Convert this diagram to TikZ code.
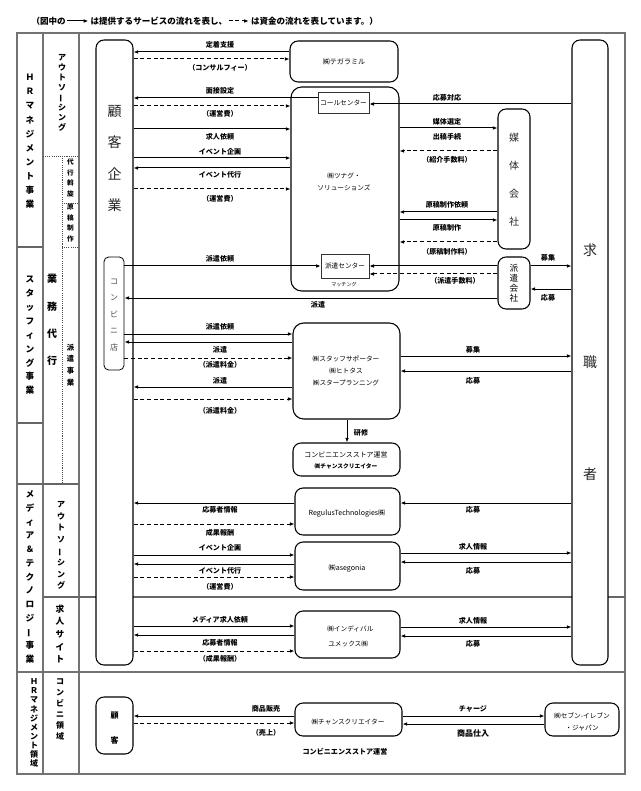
\documentclass[tikz,border=0pt]{standalone}
\usepackage{fontspec}
\setmainfont{Noto Sans CJK JP}
\usetikzlibrary{arrows.meta,fit}
\newcommand{\vbar}{\rotatebox[origin=c]{90}{ー}}
\begin{document}
\begin{tikzpicture}[x=0.75pt,y=-0.75pt,
  frame/.style={draw=black!55,line width=1.4pt},
  colline/.style={draw=black!55,line width=1.1pt},
  secline/.style={draw=black!60,line width=0.9pt},
  dotline/.style={draw=black!70,line width=0.5pt,dash pattern=on 0.8pt off 0.8pt},
  rbox/.style={draw,fill=white,rounded corners=6pt,line width=0.8pt,inner sep=0pt},
  cbox/.style={draw,fill=white,rounded corners=3.5pt,line width=0.6pt,inner sep=0pt},
  sbox/.style={draw=black!80,fill=white,line width=0.5pt,inner sep=0pt},
  sv/.style={-{Latex[length=3.5pt,width=2.8pt]},line width=0.75pt},
  fund/.style={sv,dash pattern=on 3pt off 2pt},
  hdr/.style={font=\bfseries\fontsize{6.4}{7}\selectfont,inner sep=0pt},
  lbl/.style={font=\bfseries\fontsize{5.3}{6}\selectfont,inner sep=0pt},
  btx/.style={font=\fontsize{5}{6}\selectfont,inner sep=0pt},
  vt/.style={align=center,inner sep=0pt},
]
\useasboundingbox (0,0) rectangle (640,791);

% ---------- header ----------
\node[hdr,anchor=east] (h1) at (66,21) {（図中の};
\draw[sv] ([xshift=1pt]h1.east) -- ++(21,0) coordinate (ha1);
\node[hdr,anchor=west] (h2) at ([xshift=1.5pt]ha1) {は提供するサービスの流れを表し、};
\draw[fund] ([xshift=1pt]h2.east) -- ++(20,0) coordinate (ha2);
\node[hdr,anchor=west] (h3) at ([xshift=1.5pt]ha2) {は資金の流れを表しています。）};

% ---------- frame and columns ----------
\draw[frame] (17,33) rectangle (625,774);
\draw[colline] (43,33) -- (43,774);
\draw[colline] (79,33) -- (79,774);
\draw[secline] (17,247) -- (43,247);
\draw[secline] (17,423) -- (43,423);
\draw[secline] (17,484) -- (79,484);
\draw[secline] (43,597) -- (625,597);
\draw[colline] (17,672) -- (625,672);
\draw[dotline] (43,156) -- (79,156);
\draw[dotline] (62,156) -- (62,484);
\draw[dotline] (62,203) -- (79,203);
\draw[dotline] (62,247) -- (79,247);

% ---------- left column texts ----------
\node[vt,font=\bfseries\fontsize{6.5}{10.6}\selectfont] (c1a) at (30,141.5) {Ｈ\\Ｒ\\マ\\ネ\\ジ\\メ\\ン\\ト\\事\\業};
\node[vt,font=\bfseries\fontsize{6.5}{10.4}\selectfont] (c1b) at (30,335.5) {ス\\タ\\ッ\\フ\\ィ\\ン\\グ\\事\\業};
\node[vt,font=\bfseries\fontsize{6.5}{10.3}\selectfont] (c1c) at (30,577) {メ\\デ\\ィ\\ア\\＆\\テ\\ク\\ノ\\ロ\\ジ\\\vbar\\事\\業};
\node[vt,font=\bfseries\fontsize{6}{6.8}\selectfont] (c1d) at (34,723) {Ｈ\\Ｒ\\マ\\ネ\\ジ\\メ\\ン\\ト\\領\\域};

\node[vt,font=\bfseries\fontsize{6}{7.5}\selectfont] (c2a) at (62,93) {ア\\ウ\\ト\\ソ\\\vbar\\シ\\ン\\グ};
\node[vt,font=\bfseries\fontsize{7.5}{20.5}\selectfont] (c2b) at (52,320) {業\\務\\代\\行};
\node[vt,font=\bfseries\fontsize{5}{7.9}\selectfont] (c2c) at (70.5,178) {代\\行\\斡\\旋};
\node[vt,font=\bfseries\fontsize{5}{8}\selectfont] (c2d) at (70.5,223) {原\\稿\\制\\作};
\node[vt,font=\bfseries\fontsize{5.5}{8.8}\selectfont] (c2e) at (70.5,365) {派\\遣\\事\\業};
\node[vt,font=\bfseries\fontsize{6}{8.7}\selectfont] (c2f) at (61,545.5) {ア\\ウ\\ト\\ソ\\\vbar\\シ\\ン\\グ};
\node[vt,font=\bfseries\fontsize{6.5}{9.5}\selectfont] (c2g) at (60,634) {求\\人\\サ\\イ\\ト};
\node[vt,font=\bfseries\fontsize{6}{8.3}\selectfont] (c2h) at (60,709.5) {コ\\ン\\ビ\\ニ\\領\\域};

% ---------- boxes ----------
\node[rbox,fit={(96,40)(133,665)}] (kokyaku) {};
\node[cbox,fit={(104,257)(124,370)}] (konbini) {};
\node[rbox,fit={(572,40)(608,665)}] (kyushoku) {};
\node[rbox,fit={(290,41)(398,82)}] (tegara) {};
\node[rbox,rounded corners=8pt,fit={(291,87)(399,291)}] (tsunagu) {};
\node[sbox,fit={(318,92)(369,113)}] (callc) {};
\node[sbox,fit={(321,254)(369,278)}] (hakenc) {};
\node[rbox,fit={(498,109)(530,249)}] (baitai) {};
\node[rbox,fit={(498,257)(530,309)}] (hakenk) {};
\node[rbox,rounded corners=8pt,fit={(293,323)(400,419)}] (staff) {};
\node[rbox,fit={(293,443)(400,476)}] (cvs) {};
\node[rbox,fit={(295,488)(400,535)}] (regulus) {};
\node[rbox,fit={(295,542)(400,590)}] (asegonia) {};
\node[rbox,fit={(295,611)(400,658)}] (indival) {};
\node[rbox,fit={(96,697)(133,754)}] (kokyaku2) {};
\node[rbox,fit={(295,703)(402,736)}] (chance) {};
\node[rbox,fit={(545,703)(619,736)}] (seven) {};

% ---------- box texts ----------
\node[vt,font=\fontsize{10.5}{23.3}\selectfont,text=black!85] (t-kok) at (114.5,158.5) {顧\\客\\企\\業};
\node[vt,font=\fontsize{6}{12.4}\selectfont,text=black!70] (t-kon) at (114,315) {コ\\ン\\ビ\\ニ\\店};
\node[vt,font=\fontsize{10.5}{84}\selectfont,text=black!85] (t-kyu) at (590,362) {求\\職\\者};
\node[vt,font=\fontsize{7.5}{21}\selectfont,text=black!85] (t-bai) at (514,180) {媒\\体\\会\\社};
\node[vt,font=\fontsize{6.5}{7.5}\selectfont] (t-hk) at (514,283) {派\\遣\\会\\社};
\node[vt,font=\bfseries\fontsize{6}{18.8}\selectfont] (t-kok2) at (114.5,728.5) {顧\\客};

\node[btx,font=\fontsize{5.3}{6}\selectfont] (t-teg) at (344,62) {㈱テガラミル};
\node[btx] (t-cc) at (343.5,102.5) {コールセンター};
\node[btx,align=center,font=\fontsize{5}{9}\selectfont] (t-tsu) at (344,182) {㈱ツナグ・\\ソリューションズ};
\node[btx] (t-hc) at (345,266) {派遣センター};
\node[btx,font=\fontsize{3.8}{4.5}\selectfont] (t-mt) at (344,285) {マッチング};
\node[btx,align=center,font=\fontsize{5}{9}\selectfont] (t-st) at (346,371) {㈱スタッフサポーター\\㈱ヒトタス\\㈱スタープランニング};
\node[btx,font=\fontsize{5.2}{6}\selectfont] (t-cvs1) at (346,455) {コンビニエンスストア運営};
\node[btx,font=\bfseries\fontsize{4.3}{5}\selectfont] (t-cvs2) at (346,466) {㈱チャンスクリエイター};
\node[btx,font=\fontsize{5.3}{6}\selectfont] (t-reg) at (347,513) {RegulusTechnologies㈱};
\node[btx,font=\fontsize{5.3}{6}\selectfont] (t-ase) at (347,568) {㈱asegonia};
\node[btx,anchor=west] (t-ind1) at (327,629) {㈱インディバル};
\node[btx,anchor=west] (t-ind2) at (328,644) {ユメックス㈱};
\node[btx] (t-ch) at (348,722) {㈱チャンスクリエイター};
\node[btx,align=center,font=\fontsize{5}{9}\selectfont] (t-sev) at (582,722) {㈱セブン-イレブン\\・ジャパン};
\node[lbl] (t-cvs3) at (345,752) {コンビニエンスストア運営};

% ---------- left-side flows ----------
\draw[sv] (tegara.west |- 0,52) -- (kokyaku.east |- 0,52);
\node[lbl] (l1) at (220,45) {定着支援};
\draw[fund] (kokyaku.east |- 0,59) -- (tegara.west |- 0,59);
\node[lbl] (l2) at (220,68) {（コンサルフィー）};
\draw[sv] (callc.west |- 0,98) -- (kokyaku.east |- 0,98);
\node[lbl] (l3) at (220,91) {面接設定};
\draw[fund] (kokyaku.east |- 0,106) -- (tsunagu.west |- 0,106);
\node[lbl] (l4) at (220,114) {（運営費）};
\draw[sv] (kokyaku.east |- 0,129) -- (tsunagu.west |- 0,129);
\node[lbl] (l5) at (220,137) {求人依頼};
\draw[sv] (kokyaku.east |- 0,158) -- (tsunagu.west |- 0,158);
\node[lbl] (l6) at (220,152) {イベント企画};
\draw[sv] (tsunagu.west |- 0,168) -- (kokyaku.east |- 0,168);
\node[lbl] (l7) at (220,175) {イベント代行};
\draw[fund] (kokyaku.east |- 0,189) -- (tsunagu.west |- 0,189);
\node[lbl] (l8) at (220,199) {（運営費）};

\draw[sv] (konbini.east |- 0,266) -- (hakenc.west |- 0,266);
\node[lbl] (l9) at (220,259) {派遣依頼};
\draw[sv] (hakenk.west |- 0,298) -- (konbini.east |- 0,298);
\node[lbl] (l10) at (318,305) {派遣};
\draw[sv] (konbini.east |- 0,334) -- (staff.west |- 0,334);
\node[lbl] (l11) at (220,327) {派遣依頼};
\draw[sv] (staff.west |- 0,342) -- (konbini.east |- 0,342);
\node[lbl] (l12) at (220,350) {派遣};
\draw[fund] (konbini.east |- 0,358) -- (staff.west |- 0,358);
\node[lbl] (l13) at (220,365) {（派遣料金）};
\draw[sv] (staff.west |- 0,387) -- (kokyaku.east |- 0,387);
\node[lbl] (l14) at (220,381) {派遣};
\draw[fund] (kokyaku.east |- 0,399) -- (staff.west |- 0,399);
\node[lbl] (l15) at (220,411) {（派遣料金）};

\draw[sv] (regulus.west |- 0,503) -- (kokyaku.east |- 0,503);
\node[lbl] (l16) at (220,510) {応募者情報};
\draw[fund] (kokyaku.east |- 0,524) -- (regulus.west |- 0,524);
\node[lbl] (l17) at (220,533) {成果報酬};
\draw[sv] (kokyaku.east |- 0,555) -- (asegonia.west |- 0,555);
\node[lbl] (l18) at (220,548) {イベント企画};
\draw[sv] (asegonia.west |- 0,564) -- (kokyaku.east |- 0,564);
\node[lbl] (l19) at (220,571) {イベント代行};
\draw[fund] (kokyaku.east |- 0,577) -- (asegonia.west |- 0,577);
\node[lbl] (l20) at (220,587) {（運営費）};
\draw[sv] (kokyaku.east |- 0,626) -- (indival.west |- 0,626);
\node[lbl] (l21) at (220,620) {メディア求人依頼};
\draw[sv] (indival.west |- 0,635) -- (kokyaku.east |- 0,635);
\node[lbl] (l22) at (220,643) {応募者情報};
\draw[fund] (kokyaku.east |- 0,651) -- (indival.west |- 0,651);
\node[lbl] (l23) at (220,659) {（成果報酬）};

% ---------- right-side flows ----------
\draw[sv] (kyushoku.west |- 0,104) -- (callc.east |- 0,104);
\node[lbl] (r1) at (447,98) {応募対応};
\draw[sv] (tsunagu.east |- 0,128) -- (baitai.west |- 0,128);
\node[lbl] (r2) at (447,122) {媒体選定};
\node[lbl] (r3) at (447,137) {出稿手続};
\draw[fund] (baitai.west |- 0,151) -- (tsunagu.east |- 0,151);
\node[lbl] (r4) at (447,160) {（紹介手数料）};
\draw[sv] (baitai.west |- 0,212) -- (tsunagu.east |- 0,212);
\node[lbl] (r5) at (447,205) {原稿制作依頼};
\draw[sv] (tsunagu.east |- 0,220) -- (baitai.west |- 0,220);
\node[lbl] (r6) at (447,228) {原稿制作};
\draw[fund] (baitai.west |- 0,242) -- (tsunagu.east |- 0,242);
\node[lbl] (r7) at (447,252) {（原稿制作料）};
\draw[sv] (hakenk.west |- 0,266) -- (hakenc.east |- 0,266);
\draw[fund] (hakenk.west |- 0,274) -- (hakenc.east |- 0,274);
\node[lbl] (r8) at (455,281) {（派遣手数料）};
\draw[sv] (hakenk.east |- 0,266) -- (kyushoku.west |- 0,266);
\node[lbl] (r9) at (548,258) {募集};
\draw[sv] (kyushoku.west |- 0,289) -- (hakenk.east |- 0,289);
\node[lbl] (r10) at (548,298) {応募};
\draw[sv] (staff.east |- 0,356) -- (kyushoku.west |- 0,356);
\node[lbl] (r11) at (473,350) {募集};
\draw[sv] (kyushoku.west |- 0,371) -- (staff.east |- 0,371);
\node[lbl] (r12) at (473,381) {応募};
\draw[sv] (staff.south -| 347,0) -- (cvs.north -| 347,0);
\node[lbl] (r13) at (361,433) {研修};
\draw[sv] (kyushoku.west |- 0,503) -- (regulus.east |- 0,503);
\node[lbl] (r14) at (473,510) {応募};
\draw[sv] (asegonia.east |- 0,553) -- (kyushoku.west |- 0,553);
\node[lbl] (r15) at (473,547) {求人情報};
\draw[sv] (kyushoku.west |- 0,562) -- (asegonia.east |- 0,562);
\node[lbl] (r16) at (473,571) {応募};
\draw[sv] (indival.east |- 0,627) -- (kyushoku.west |- 0,627);
\node[lbl] (r17) at (473,621) {求人情報};
\draw[sv] (kyushoku.west |- 0,636) -- (indival.east |- 0,636);
\node[lbl] (r18) at (473,644) {応募};

% ---------- bottom flows ----------
\draw[sv] (chance.west |- 0,716) -- (kokyaku2.east |- 0,716);
\node[lbl] (b1) at (266,709) {商品販売};
\draw[fund] (kokyaku2.east |- 0,723) -- (chance.west |- 0,723);
\node[lbl] (b2) at (266,733) {（売上）};
\draw[sv] (chance.east |- 0,716) -- (seven.west |- 0,716);
\node[lbl] (b3) at (473,709) {チャージ};
\draw[sv] (seven.west |- 0,724) -- (chance.east |- 0,724);
\node[lbl,font=\bfseries\fontsize{6}{7}\selectfont] (b4) at (473,733) {商品仕入};
\end{tikzpicture}
\end{document}
